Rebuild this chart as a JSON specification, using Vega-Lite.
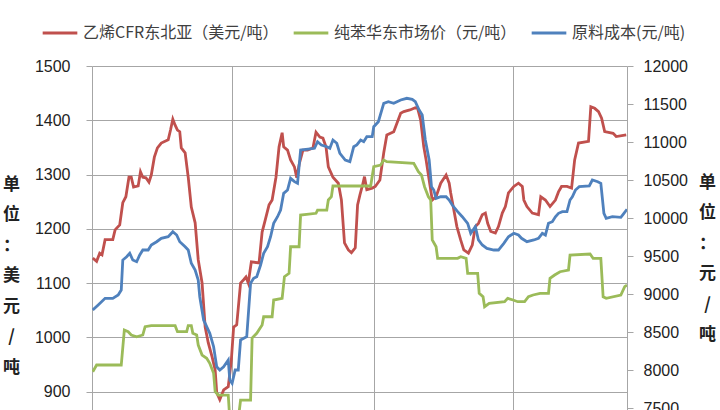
{
"$schema":"https://vega.github.io/schema/vega-lite/v6.json",
"width":535,"height":344,
"autosize":{"type":"none"},
"padding":{"left":92,"top":66,"right":93,"bottom":0},
"background":"white",
"config":{"view":{"stroke":null}},
"encoding":{"x":{"field":"date","type":"temporal","scale":{"domain":[{"year":2012,"month":1,"date":1},{"year":2013,"month":11,"date":26}]},"axis":{"grid":true,"gridColor":"#a6a6a6","labels":false,"ticks":false,"domain":false,"title":null,"values":[{"year":2012,"month":7,"date":1},{"year":2013,"month":1,"date":1},{"year":2013,"month":7,"date":1}]}}},
"layer":[
{"data":{"format":{"parse":{"date":"date:'%Y-%j'"}},"values":[
{"date":"2012-002","series":"乙烯CFR东北亚（美元/吨）","value":1146},
{"date":"2012-007","series":"乙烯CFR东北亚（美元/吨）","value":1140},
{"date":"2012-011","series":"乙烯CFR东北亚（美元/吨）","value":1155},
{"date":"2012-014","series":"乙烯CFR东北亚（美元/吨）","value":1152},
{"date":"2012-018","series":"乙烯CFR东北亚（美元/吨）","value":1180},
{"date":"2012-028","series":"乙烯CFR东北亚（美元/吨）","value":1180},
{"date":"2012-031","series":"乙烯CFR东北亚（美元/吨）","value":1198},
{"date":"2012-037","series":"乙烯CFR东北亚（美元/吨）","value":1207},
{"date":"2012-041","series":"乙烯CFR东北亚（美元/吨）","value":1248},
{"date":"2012-045","series":"乙烯CFR东北亚（美元/吨）","value":1259},
{"date":"2012-049","series":"乙烯CFR东北亚（美元/吨）","value":1295},
{"date":"2012-052","series":"乙烯CFR东北亚（美元/吨）","value":1295},
{"date":"2012-055","series":"乙烯CFR东北亚（美元/吨）","value":1277},
{"date":"2012-061","series":"乙烯CFR东北亚（美元/吨）","value":1279},
{"date":"2012-064","series":"乙烯CFR东北亚（美元/吨）","value":1305},
{"date":"2012-067","series":"乙烯CFR东北亚（美元/吨）","value":1295},
{"date":"2012-071","series":"乙烯CFR东北亚（美元/吨）","value":1294},
{"date":"2012-075","series":"乙烯CFR东北亚（美元/吨）","value":1286},
{"date":"2012-078","series":"乙烯CFR东北亚（美元/吨）","value":1299},
{"date":"2012-082","series":"乙烯CFR东北亚（美元/吨）","value":1332},
{"date":"2012-086","series":"乙烯CFR东北亚（美元/吨）","value":1349},
{"date":"2012-091","series":"乙烯CFR东北亚（美元/吨）","value":1358},
{"date":"2012-100","series":"乙烯CFR东北亚（美元/吨）","value":1364},
{"date":"2012-103","series":"乙烯CFR东北亚（美元/吨）","value":1382},
{"date":"2012-106","series":"乙烯CFR东北亚（美元/吨）","value":1402},
{"date":"2012-109","series":"乙烯CFR东北亚（美元/吨）","value":1391},
{"date":"2012-112","series":"乙烯CFR东北亚（美元/吨）","value":1382},
{"date":"2012-115","series":"乙烯CFR东北亚（美元/吨）","value":1379},
{"date":"2012-117","series":"乙烯CFR东北亚（美元/吨）","value":1349},
{"date":"2012-122","series":"乙烯CFR东北亚（美元/吨）","value":1340},
{"date":"2012-126","series":"乙烯CFR东北亚（美元/吨）","value":1295},
{"date":"2012-130","series":"乙烯CFR东北亚（美元/吨）","value":1240},
{"date":"2012-135","series":"乙烯CFR东北亚（美元/吨）","value":1211},
{"date":"2012-139","series":"乙烯CFR东北亚（美元/吨）","value":1143},
{"date":"2012-144","series":"乙烯CFR东北亚（美元/吨）","value":1100},
{"date":"2012-148","series":"乙烯CFR东北亚（美元/吨）","value":1019},
{"date":"2012-152","series":"乙烯CFR东北亚（美元/吨）","value":990},
{"date":"2012-157","series":"乙烯CFR东北亚（美元/吨）","value":964},
{"date":"2012-161","series":"乙烯CFR东北亚（美元/吨）","value":940},
{"date":"2012-163","series":"乙烯CFR东北亚（美元/吨）","value":898},
{"date":"2012-167","series":"乙烯CFR东北亚（美元/吨）","value":885},
{"date":"2012-172","series":"乙烯CFR东北亚（美元/吨）","value":903},
{"date":"2012-178","series":"乙烯CFR东北亚（美元/吨）","value":909},
{"date":"2012-182","series":"乙烯CFR东北亚（美元/吨）","value":958},
{"date":"2012-185","series":"乙烯CFR东北亚（美元/吨）","value":1019},
{"date":"2012-189","series":"乙烯CFR东北亚（美元/吨）","value":1023},
{"date":"2012-194","series":"乙烯CFR东北亚（美元/吨）","value":1100},
{"date":"2012-198","series":"乙烯CFR东北亚（美元/吨）","value":1106},
{"date":"2012-201","series":"乙烯CFR东北亚（美元/吨）","value":1111},
{"date":"2012-204","series":"乙烯CFR东北亚（美元/吨）","value":1100},
{"date":"2012-208","series":"乙烯CFR东北亚（美元/吨）","value":1139},
{"date":"2012-218","series":"乙烯CFR东北亚（美元/吨）","value":1137},
{"date":"2012-222","series":"乙烯CFR东北亚（美元/吨）","value":1194},
{"date":"2012-226","series":"乙烯CFR东北亚（美元/吨）","value":1216},
{"date":"2012-231","series":"乙烯CFR东北亚（美元/吨）","value":1244},
{"date":"2012-235","series":"乙烯CFR东北亚（美元/吨）","value":1253},
{"date":"2012-240","series":"乙烯CFR东北亚（美元/吨）","value":1295},
{"date":"2012-244","series":"乙烯CFR东北亚（美元/吨）","value":1351},
{"date":"2012-248","series":"乙烯CFR东北亚（美元/吨）","value":1377},
{"date":"2012-250","series":"乙烯CFR东北亚（美元/吨）","value":1351},
{"date":"2012-255","series":"乙烯CFR东北亚（美元/吨）","value":1345},
{"date":"2012-259","series":"乙烯CFR东北亚（美元/吨）","value":1327},
{"date":"2012-264","series":"乙烯CFR东北亚（美元/吨）","value":1314},
{"date":"2012-267","series":"乙烯CFR东北亚（美元/吨）","value":1294},
{"date":"2012-270","series":"乙烯CFR东北亚（美元/吨）","value":1318},
{"date":"2012-275","series":"乙烯CFR东北亚（美元/吨）","value":1345},
{"date":"2012-281","series":"乙烯CFR东北亚（美元/吨）","value":1345},
{"date":"2012-288","series":"乙烯CFR东北亚（美元/吨）","value":1349},
{"date":"2012-292","series":"乙烯CFR东北亚（美元/吨）","value":1378},
{"date":"2012-297","series":"乙烯CFR东北亚（美元/吨）","value":1369},
{"date":"2012-301","series":"乙烯CFR东北亚（美元/吨）","value":1367},
{"date":"2012-305","series":"乙烯CFR东北亚（美元/吨）","value":1351},
{"date":"2012-308","series":"乙烯CFR东北亚（美元/吨）","value":1314},
{"date":"2012-314","series":"乙烯CFR东北亚（美元/吨）","value":1295},
{"date":"2012-321","series":"乙烯CFR东北亚（美元/吨）","value":1284},
{"date":"2012-325","series":"乙烯CFR东北亚（美元/吨）","value":1253},
{"date":"2012-329","series":"乙烯CFR东北亚（美元/吨）","value":1174},
{"date":"2012-334","series":"乙烯CFR东北亚（美元/吨）","value":1161},
{"date":"2012-338","series":"乙烯CFR东北亚（美元/吨）","value":1156},
{"date":"2012-343","series":"乙烯CFR东北亚（美元/吨）","value":1165},
{"date":"2012-346","series":"乙烯CFR东北亚（美元/吨）","value":1244},
{"date":"2012-349","series":"乙烯CFR东北亚（美元/吨）","value":1262},
{"date":"2012-352","series":"乙烯CFR东北亚（美元/吨）","value":1278},
{"date":"2012-355","series":"乙烯CFR东北亚（美元/吨）","value":1296},
{"date":"2012-358","series":"乙烯CFR东北亚（美元/吨）","value":1272},
{"date":"2012-365","series":"乙烯CFR东北亚（美元/吨）","value":1275},
{"date":"2013-003","series":"乙烯CFR东北亚（美元/吨）","value":1278},
{"date":"2013-009","series":"乙烯CFR东北亚（美元/吨）","value":1290},
{"date":"2013-014","series":"乙烯CFR东北亚（美元/吨）","value":1340},
{"date":"2013-018","series":"乙烯CFR东北亚（美元/吨）","value":1373},
{"date":"2013-027","series":"乙烯CFR东北亚（美元/吨）","value":1379},
{"date":"2013-036","series":"乙烯CFR东北亚（美元/吨）","value":1413},
{"date":"2013-040","series":"乙烯CFR东北亚（美元/吨）","value":1416},
{"date":"2013-048","series":"乙烯CFR东北亚（美元/吨）","value":1419},
{"date":"2013-055","series":"乙烯CFR东北亚（美元/吨）","value":1423},
{"date":"2013-058","series":"乙烯CFR东北亚（美元/吨）","value":1422},
{"date":"2013-062","series":"乙烯CFR东北亚（美元/吨）","value":1400},
{"date":"2013-066","series":"乙烯CFR东北亚（美元/吨）","value":1351},
{"date":"2013-069","series":"乙烯CFR东北亚（美元/吨）","value":1327},
{"date":"2013-073","series":"乙烯CFR东北亚（美元/吨）","value":1290},
{"date":"2013-077","series":"乙烯CFR东北亚（美元/吨）","value":1253},
{"date":"2013-082","series":"乙烯CFR东北亚（美元/吨）","value":1259},
{"date":"2013-088","series":"乙烯CFR东北亚（美元/吨）","value":1284},
{"date":"2013-095","series":"乙烯CFR东北亚（美元/吨）","value":1299},
{"date":"2013-099","series":"乙烯CFR东北亚（美元/吨）","value":1284},
{"date":"2013-101","series":"乙烯CFR东北亚（美元/吨）","value":1266},
{"date":"2013-105","series":"乙烯CFR东北亚（美元/吨）","value":1235},
{"date":"2013-109","series":"乙烯CFR东北亚（美元/吨）","value":1204},
{"date":"2013-114","series":"乙烯CFR东北亚（美元/吨）","value":1179},
{"date":"2013-118","series":"乙烯CFR东北亚（美元/吨）","value":1161},
{"date":"2013-124","series":"乙烯CFR东北亚（美元/吨）","value":1155},
{"date":"2013-129","series":"乙烯CFR东北亚（美元/吨）","value":1170},
{"date":"2013-133","series":"乙烯CFR东北亚（美元/吨）","value":1204},
{"date":"2013-137","series":"乙烯CFR东北亚（美元/吨）","value":1210},
{"date":"2013-142","series":"乙烯CFR东北亚（美元/吨）","value":1226},
{"date":"2013-146","series":"乙烯CFR东北亚（美元/吨）","value":1229},
{"date":"2013-149","series":"乙烯CFR东北亚（美元/吨）","value":1210},
{"date":"2013-153","series":"乙烯CFR东北亚（美元/吨）","value":1195},
{"date":"2013-159","series":"乙烯CFR东北亚（美元/吨）","value":1192},
{"date":"2013-163","series":"乙烯CFR东北亚（美元/吨）","value":1204},
{"date":"2013-168","series":"乙烯CFR东北亚（美元/吨）","value":1229},
{"date":"2013-172","series":"乙烯CFR东北亚（美元/吨）","value":1241},
{"date":"2013-176","series":"乙烯CFR东北亚（美元/吨）","value":1266},
{"date":"2013-183","series":"乙烯CFR东北亚（美元/吨）","value":1278},
{"date":"2013-189","series":"乙烯CFR东北亚（美元/吨）","value":1284},
{"date":"2013-194","series":"乙烯CFR东北亚（美元/吨）","value":1278},
{"date":"2013-196","series":"乙烯CFR东北亚（美元/吨）","value":1253},
{"date":"2013-200","series":"乙烯CFR东北亚（美元/吨）","value":1241},
{"date":"2013-207","series":"乙烯CFR东北亚（美元/吨）","value":1229},
{"date":"2013-215","series":"乙烯CFR东北亚（美元/吨）","value":1226},
{"date":"2013-218","series":"乙烯CFR东北亚（美元/吨）","value":1259},
{"date":"2013-224","series":"乙烯CFR东北亚（美元/吨）","value":1253},
{"date":"2013-230","series":"乙烯CFR东北亚（美元/吨）","value":1241},
{"date":"2013-237","series":"乙烯CFR东北亚（美元/吨）","value":1253},
{"date":"2013-241","series":"乙烯CFR东北亚（美元/吨）","value":1268},
{"date":"2013-245","series":"乙烯CFR东北亚（美元/吨）","value":1278},
{"date":"2013-252","series":"乙烯CFR东北亚（美元/吨）","value":1278},
{"date":"2013-258","series":"乙烯CFR东北亚（美元/吨）","value":1275},
{"date":"2013-262","series":"乙烯CFR东北亚（美元/吨）","value":1327},
{"date":"2013-267","series":"乙烯CFR东北亚（美元/吨）","value":1358},
{"date":"2013-280","series":"乙烯CFR东北亚（美元/吨）","value":1361},
{"date":"2013-283","series":"乙烯CFR东北亚（美元/吨）","value":1425},
{"date":"2013-288","series":"乙烯CFR东北亚（美元/吨）","value":1422},
{"date":"2013-293","series":"乙烯CFR东北亚（美元/吨）","value":1416},
{"date":"2013-297","series":"乙烯CFR东北亚（美元/吨）","value":1404},
{"date":"2013-301","series":"乙烯CFR东北亚（美元/吨）","value":1379},
{"date":"2013-312","series":"乙烯CFR东北亚（美元/吨）","value":1376},
{"date":"2013-316","series":"乙烯CFR东北亚（美元/吨）","value":1370},
{"date":"2013-329","series":"乙烯CFR东北亚（美元/吨）","value":1373}
]},
"mark":{"type":"line","strokeWidth":2.8,"clip":true},
"encoding":{
"y":{"field":"value","type":"quantitative","scale":{"domain":[866,1500],"nice":false,"zero":false},"axis":{"orient":"left","format":"d","title":["单","位","：","美","元","/","吨"],"titleAngle":0,"titleX":-81,"titleY":110,"titleBaseline":"top","titleAlign":"center","titleLineHeight":30.5,"titleFontSize":17,"titleFontWeight":"bold","titleFont":"Noto Sans CJK SC","titleColor":"#222222","values":[900,1000,1100,1200,1300,1400,1500],"grid":true,"gridColor":"#a6a6a6","domainColor":"#a6a6a6","tickColor":"#a6a6a6","tickSize":6,"labelPadding":16,"labelFontSize":16,"labelFont":"Liberation Sans","labelColor":"#222222","labelFlush":false}},
"color":{"field":"series","type":"nominal","scale":{"domain":["乙烯CFR东北亚（美元/吨）","纯苯华东市场价（元/吨）","原料成本(元/吨)"],"range":["#C0504D","#9BBB59","#4F81BD"]},"legend":{"orient":"none","legendX":-51,"legendY":-52,"direction":"horizontal","title":null,"symbolType":"stroke","symbolSize":1200,"symbolStrokeWidth":3,"labelFontSize":16,"labelFont":"Noto Sans CJK SC","labelColor":"#404040","labelOffset":4,"columnPadding":8,"labelLimit":400}}
}},
{"data":{"format":{"parse":{"date":"date:'%Y-%j'"}},"values":[
{"date":"2012-002","series":"原料成本(元/吨)","value":8789},
{"date":"2012-009","series":"原料成本(元/吨)","value":8855},
{"date":"2012-018","series":"原料成本(元/吨)","value":8943},
{"date":"2012-028","series":"原料成本(元/吨)","value":8943},
{"date":"2012-035","series":"原料成本(元/吨)","value":8987},
{"date":"2012-039","series":"原料成本(元/吨)","value":9053},
{"date":"2012-041","series":"原料成本(元/吨)","value":9447},
{"date":"2012-046","series":"原料成本(元/吨)","value":9491},
{"date":"2012-050","series":"原料成本(元/吨)","value":9536},
{"date":"2012-054","series":"原料成本(元/吨)","value":9447},
{"date":"2012-059","series":"原料成本(元/吨)","value":9425},
{"date":"2012-063","series":"原料成本(元/吨)","value":9513},
{"date":"2012-067","series":"原料成本(元/吨)","value":9579},
{"date":"2012-074","series":"原料成本(元/吨)","value":9579},
{"date":"2012-078","series":"原料成本(元/吨)","value":9645},
{"date":"2012-085","series":"原料成本(元/吨)","value":9688},
{"date":"2012-091","series":"原料成本(元/吨)","value":9733},
{"date":"2012-100","series":"原料成本(元/吨)","value":9754},
{"date":"2012-106","series":"原料成本(元/吨)","value":9820},
{"date":"2012-111","series":"原料成本(元/吨)","value":9776},
{"date":"2012-115","series":"原料成本(元/吨)","value":9688},
{"date":"2012-122","series":"原料成本(元/吨)","value":9622},
{"date":"2012-126","series":"原料成本(元/吨)","value":9579},
{"date":"2012-130","series":"原料成本(元/吨)","value":9404},
{"date":"2012-135","series":"原料成本(元/吨)","value":9316},
{"date":"2012-139","series":"原料成本(元/吨)","value":9184},
{"date":"2012-141","series":"原料成本(元/吨)","value":8964},
{"date":"2012-146","series":"原料成本(元/吨)","value":8658},
{"date":"2012-150","series":"原料成本(元/吨)","value":8570},
{"date":"2012-154","series":"原料成本(元/吨)","value":8483},
{"date":"2012-159","series":"原料成本(元/吨)","value":8307},
{"date":"2012-163","series":"原料成本(元/吨)","value":8043},
{"date":"2012-167","series":"原料成本(元/吨)","value":8000},
{"date":"2012-172","series":"原料成本(元/吨)","value":8043},
{"date":"2012-178","series":"原料成本(元/吨)","value":8132},
{"date":"2012-180","series":"原料成本(元/吨)","value":7868},
{"date":"2012-183","series":"原料成本(元/吨)","value":7825},
{"date":"2012-187","series":"原料成本(元/吨)","value":8000},
{"date":"2012-191","series":"原料成本(元/吨)","value":8000},
{"date":"2012-194","series":"原料成本(元/吨)","value":8395},
{"date":"2012-202","series":"原料成本(元/吨)","value":8438},
{"date":"2012-207","series":"原料成本(元/吨)","value":9141},
{"date":"2012-211","series":"原料成本(元/吨)","value":9207},
{"date":"2012-215","series":"原料成本(元/吨)","value":9228},
{"date":"2012-220","series":"原料成本(元/吨)","value":9382},
{"date":"2012-224","series":"原料成本(元/吨)","value":9536},
{"date":"2012-229","series":"原料成本(元/吨)","value":9622},
{"date":"2012-233","series":"原料成本(元/吨)","value":9754},
{"date":"2012-237","series":"原料成本(元/吨)","value":9930},
{"date":"2012-242","series":"原料成本(元/吨)","value":10017},
{"date":"2012-246","series":"原料成本(元/吨)","value":10105},
{"date":"2012-250","series":"原料成本(元/吨)","value":10325},
{"date":"2012-255","series":"原料成本(元/吨)","value":10368},
{"date":"2012-259","series":"原料成本(元/吨)","value":10522},
{"date":"2012-264","series":"原料成本(元/吨)","value":10478},
{"date":"2012-268","series":"原料成本(元/吨)","value":10457},
{"date":"2012-272","series":"原料成本(元/吨)","value":10895},
{"date":"2012-290","series":"原料成本(元/吨)","value":10917},
{"date":"2012-294","series":"原料成本(元/吨)","value":11004},
{"date":"2012-299","series":"原料成本(元/吨)","value":10961},
{"date":"2012-306","series":"原料成本(元/吨)","value":10938},
{"date":"2012-310","series":"原料成本(元/吨)","value":10917},
{"date":"2012-314","series":"原料成本(元/吨)","value":11026},
{"date":"2012-319","series":"原料成本(元/吨)","value":10983},
{"date":"2012-323","series":"原料成本(元/吨)","value":10851},
{"date":"2012-330","series":"原料成本(元/吨)","value":10763},
{"date":"2012-336","series":"原料成本(元/吨)","value":10741},
{"date":"2012-341","series":"原料成本(元/吨)","value":10938},
{"date":"2012-345","series":"原料成本(元/吨)","value":10961},
{"date":"2012-350","series":"原料成本(元/吨)","value":11026},
{"date":"2012-354","series":"原料成本(元/吨)","value":11004},
{"date":"2012-358","series":"原料成本(元/吨)","value":11070},
{"date":"2012-365","series":"原料成本(元/吨)","value":11070},
{"date":"2013-001","series":"原料成本(元/吨)","value":11201},
{"date":"2013-007","series":"原料成本(元/吨)","value":11267},
{"date":"2013-014","series":"原料成本(元/吨)","value":11509},
{"date":"2013-020","series":"原料成本(元/吨)","value":11530},
{"date":"2013-027","series":"原料成本(元/吨)","value":11509},
{"date":"2013-036","series":"原料成本(元/吨)","value":11553},
{"date":"2013-044","series":"原料成本(元/吨)","value":11575},
{"date":"2013-051","series":"原料成本(元/吨)","value":11562},
{"date":"2013-055","series":"原料成本(元/吨)","value":11530},
{"date":"2013-060","series":"原料成本(元/吨)","value":11421},
{"date":"2013-064","series":"原料成本(元/吨)","value":11355},
{"date":"2013-068","series":"原料成本(元/吨)","value":11026},
{"date":"2013-073","series":"原料成本(元/吨)","value":10763},
{"date":"2013-076","series":"原料成本(元/吨)","value":10412},
{"date":"2013-079","series":"原料成本(元/吨)","value":10368},
{"date":"2013-082","series":"原料成本(元/吨)","value":10259},
{"date":"2013-088","series":"原料成本(元/吨)","value":10280},
{"date":"2013-095","series":"原料成本(元/吨)","value":10280},
{"date":"2013-099","series":"原料成本(元/吨)","value":10237},
{"date":"2013-103","series":"原料成本(元/吨)","value":10171},
{"date":"2013-110","series":"原料成本(元/吨)","value":10083},
{"date":"2013-116","series":"原料成本(元/吨)","value":10017},
{"date":"2013-123","series":"原料成本(元/吨)","value":9930},
{"date":"2013-127","series":"原料成本(元/吨)","value":9799},
{"date":"2013-133","series":"原料成本(元/吨)","value":9886},
{"date":"2013-137","series":"原料成本(元/吨)","value":9711},
{"date":"2013-142","series":"原料成本(元/吨)","value":9645},
{"date":"2013-148","series":"原料成本(元/吨)","value":9601},
{"date":"2013-157","series":"原料成本(元/吨)","value":9579},
{"date":"2013-163","series":"原料成本(元/吨)","value":9579},
{"date":"2013-170","series":"原料成本(元/吨)","value":9667},
{"date":"2013-176","series":"原料成本(元/吨)","value":9754},
{"date":"2013-183","series":"原料成本(元/吨)","value":9799},
{"date":"2013-189","series":"原料成本(元/吨)","value":9776},
{"date":"2013-193","series":"原料成本(元/吨)","value":9733},
{"date":"2013-200","series":"原料成本(元/吨)","value":9688},
{"date":"2013-209","series":"原料成本(元/吨)","value":9711},
{"date":"2013-215","series":"原料成本(元/吨)","value":9733},
{"date":"2013-220","series":"原料成本(元/吨)","value":9799},
{"date":"2013-224","series":"原料成本(元/吨)","value":9776},
{"date":"2013-228","series":"原料成本(元/吨)","value":9930},
{"date":"2013-233","series":"原料成本(元/吨)","value":9951},
{"date":"2013-237","series":"原料成本(元/吨)","value":10017},
{"date":"2013-241","series":"原料成本(元/吨)","value":10062},
{"date":"2013-246","series":"原料成本(元/吨)","value":10083},
{"date":"2013-252","series":"原料成本(元/吨)","value":10083},
{"date":"2013-256","series":"原料成本(元/吨)","value":10237},
{"date":"2013-259","series":"原料成本(元/吨)","value":10280},
{"date":"2013-263","series":"原料成本(元/吨)","value":10368},
{"date":"2013-268","series":"原料成本(元/吨)","value":10412},
{"date":"2013-281","series":"原料成本(元/吨)","value":10421},
{"date":"2013-285","series":"原料成本(元/吨)","value":10500},
{"date":"2013-292","series":"原料成本(元/吨)","value":10478},
{"date":"2013-296","series":"原料成本(元/吨)","value":10457},
{"date":"2013-300","series":"原料成本(元/吨)","value":10062},
{"date":"2013-303","series":"原料成本(元/吨)","value":9996},
{"date":"2013-311","series":"原料成本(元/吨)","value":10017},
{"date":"2013-322","series":"原料成本(元/吨)","value":10009},
{"date":"2013-326","series":"原料成本(元/吨)","value":10062},
{"date":"2013-330","series":"原料成本(元/吨)","value":10114},
{"date":"2012-002","series":"纯苯华东市场价（元/吨）","value":7978},
{"date":"2012-007","series":"纯苯华东市场价（元/吨）","value":8066},
{"date":"2012-039","series":"纯苯华东市场价（元/吨）","value":8066},
{"date":"2012-043","series":"纯苯华东市场价（元/吨）","value":8526},
{"date":"2012-048","series":"纯苯华东市场价（元/吨）","value":8504},
{"date":"2012-052","series":"纯苯华东市场价（元/吨）","value":8461},
{"date":"2012-059","series":"纯苯华东市场价（元/吨）","value":8438},
{"date":"2012-067","series":"纯苯华东市场价（元/吨）","value":8461},
{"date":"2012-070","series":"纯苯华东市场价（元/吨）","value":8570},
{"date":"2012-078","series":"纯苯华东市场价（元/吨）","value":8583},
{"date":"2012-109","series":"纯苯华东市场价（元/吨）","value":8583},
{"date":"2012-112","series":"纯苯华东市场价（元/吨）","value":8504},
{"date":"2012-124","series":"纯苯华东市场价（元/吨）","value":8504},
{"date":"2012-126","series":"纯苯华东市场价（元/吨）","value":8583},
{"date":"2012-130","series":"纯苯华东市场价（元/吨）","value":8583},
{"date":"2012-132","series":"纯苯华东市场价（元/吨）","value":8483},
{"date":"2012-137","series":"纯苯华东市场价（元/吨）","value":8461},
{"date":"2012-139","series":"纯苯华东市场价（元/吨）","value":8329},
{"date":"2012-144","series":"纯苯华东市场价（元/吨）","value":8197},
{"date":"2012-150","series":"纯苯华东市场价（元/吨）","value":8154},
{"date":"2012-154","series":"纯苯华东市场价（元/吨）","value":8088},
{"date":"2012-159","series":"纯苯华东市场价（元/吨）","value":7957},
{"date":"2012-161","series":"纯苯华东市场价（元/吨）","value":7714},
{"date":"2012-165","series":"纯苯华东市场价（元/吨）","value":7671},
{"date":"2012-178","series":"纯苯华东市场价（元/吨）","value":7671},
{"date":"2012-180","series":"纯苯华东市场价（元/吨）","value":7350},
{"date":"2012-191","series":"纯苯华东市场价（元/吨）","value":7350},
{"date":"2012-194","series":"纯苯华东市场价（元/吨）","value":7605},
{"date":"2012-207","series":"纯苯华东市场价（元/吨）","value":7605},
{"date":"2012-209","series":"纯苯华东市场价（元/吨）","value":8421},
{"date":"2012-215","series":"纯苯华东市场价（元/吨）","value":8483},
{"date":"2012-222","series":"纯苯华东市场价（元/吨）","value":8592},
{"date":"2012-224","series":"纯苯华东市场价（元/吨）","value":8701},
{"date":"2012-235","series":"纯苯华东市场价（元/吨）","value":8701},
{"date":"2012-237","series":"纯苯华东市场价（元/吨）","value":8921},
{"date":"2012-248","series":"纯苯华东市场价（元/吨）","value":8943},
{"date":"2012-251","series":"纯苯华东市场价（元/吨）","value":9228},
{"date":"2012-257","series":"纯苯华东市场价（元/吨）","value":9272},
{"date":"2012-259","series":"纯苯华东市场价（元/吨）","value":9622},
{"date":"2012-270","series":"纯苯华东市场价（元/吨）","value":9622},
{"date":"2012-272","series":"纯苯华东市场价（元/吨）","value":10039},
{"date":"2012-292","series":"纯苯华东市场价（元/吨）","value":10062},
{"date":"2012-294","series":"纯苯华东市场价（元/吨）","value":10105},
{"date":"2012-306","series":"纯苯华东市场价（元/吨）","value":10105},
{"date":"2012-308","series":"纯苯华东市场价（元/吨）","value":10237},
{"date":"2012-312","series":"纯苯华东市场价（元/吨）","value":10280},
{"date":"2012-314","series":"纯苯华东市场价（元/吨）","value":10421},
{"date":"2012-363","series":"纯苯华东市场价（元/吨）","value":10421},
{"date":"2013-001","series":"纯苯华东市场价（元/吨）","value":10675},
{"date":"2013-010","series":"纯苯华东市场价（元/吨）","value":10697},
{"date":"2013-014","series":"纯苯华东市场价（元/吨）","value":10763},
{"date":"2013-018","series":"纯苯华东市场价（元/吨）","value":10741},
{"date":"2013-053","series":"纯苯华东市场价（元/吨）","value":10720},
{"date":"2013-059","series":"纯苯华东市场价（元/吨）","value":10609},
{"date":"2013-063","series":"纯苯华东市场价（元/吨）","value":10566},
{"date":"2013-067","series":"纯苯华东市场价（元/吨）","value":10412},
{"date":"2013-072","series":"纯苯华东市场价（元/吨）","value":10280},
{"date":"2013-075","series":"纯苯华东市场价（元/吨）","value":10237},
{"date":"2013-077","series":"纯苯华东市场价（元/吨）","value":9711},
{"date":"2013-082","series":"纯苯华东市场价（元/吨）","value":9622},
{"date":"2013-084","series":"纯苯华东市场价（元/吨）","value":9470},
{"date":"2013-110","series":"纯苯华东市场价（元/吨）","value":9470},
{"date":"2013-114","series":"纯苯华东市场价（元/吨）","value":9491},
{"date":"2013-121","series":"纯苯华东市场价（元/吨）","value":9470},
{"date":"2013-123","series":"纯苯华东市场价（元/吨）","value":9272},
{"date":"2013-136","series":"纯苯华东市场价（元/吨）","value":9272},
{"date":"2013-138","series":"纯苯华东市场价（元/吨）","value":9009},
{"date":"2013-143","series":"纯苯华东市场价（元/吨）","value":8964},
{"date":"2013-145","series":"纯苯华东市场价（元/吨）","value":8833},
{"date":"2013-151","series":"纯苯华东市场价（元/吨）","value":8878},
{"date":"2013-171","series":"纯苯华东市场价（元/吨）","value":8899},
{"date":"2013-175","series":"纯苯华东市场价（元/吨）","value":8943},
{"date":"2013-182","series":"纯苯华东市场价（元/吨）","value":8921},
{"date":"2013-188","series":"纯苯华东市场价（元/吨）","value":8899},
{"date":"2013-197","series":"纯苯华东市场价（元/吨）","value":8899},
{"date":"2013-202","series":"纯苯华东市场价（元/吨）","value":8964},
{"date":"2013-208","series":"纯苯华东市场价（元/吨）","value":8987},
{"date":"2013-217","series":"纯苯华东市场价（元/吨）","value":9009},
{"date":"2013-228","series":"纯苯华东市场价（元/吨）","value":9009},
{"date":"2013-230","series":"纯苯华东市场价（元/吨）","value":9207},
{"date":"2013-236","series":"纯苯华东市场价（元/吨）","value":9250},
{"date":"2013-243","series":"纯苯华东市场价（元/吨）","value":9293},
{"date":"2013-254","series":"纯苯华东市场价（元/吨）","value":9316},
{"date":"2013-256","series":"纯苯华东市场价（元/吨）","value":9513},
{"date":"2013-282","series":"纯苯华东市场价（元/吨）","value":9526},
{"date":"2013-286","series":"纯苯华东市场价（元/吨）","value":9470},
{"date":"2013-296","series":"纯苯华东市场价（元/吨）","value":9470},
{"date":"2013-299","series":"纯苯华东市场价（元/吨）","value":8964},
{"date":"2013-303","series":"纯苯华东市场价（元/吨）","value":8943},
{"date":"2013-322","series":"纯苯华东市场价（元/吨）","value":8987},
{"date":"2013-327","series":"纯苯华东市场价（元/吨）","value":9096},
{"date":"2013-330","series":"纯苯华东市场价（元/吨）","value":9118}
]},
"mark":{"type":"line","strokeWidth":2.8,"clip":true},
"encoding":{
"y":{"field":"value","type":"quantitative","scale":{"domain":[7474,12000],"nice":false,"zero":false},"axis":{"orient":"right","format":"d","title":["单","位","：","元","/","吨"],"titleAngle":0,"titleX":80,"titleY":108,"titleBaseline":"top","titleAlign":"center","titleLineHeight":30.5,"titleFontSize":17,"titleFontWeight":"bold","titleFont":"Noto Sans CJK SC","titleColor":"#222222","values":[7500,8000,8500,9000,9500,10000,10500,11000,11500,12000],"grid":false,"domainColor":"#a6a6a6","tickColor":"#a6a6a6","tickSize":6,"labelPadding":10,"labelFontSize":16,"labelFont":"Liberation Sans","labelColor":"#222222","labelFlush":false,"labelOverlap":false}},
"color":{"field":"series","type":"nominal","scale":{"domain":["乙烯CFR东北亚（美元/吨）","纯苯华东市场价（元/吨）","原料成本(元/吨)"],"range":["#C0504D","#9BBB59","#4F81BD"]}}
}}
],
"resolve":{"scale":{"y":"independent"},"axis":{"y":"independent"}}
}
